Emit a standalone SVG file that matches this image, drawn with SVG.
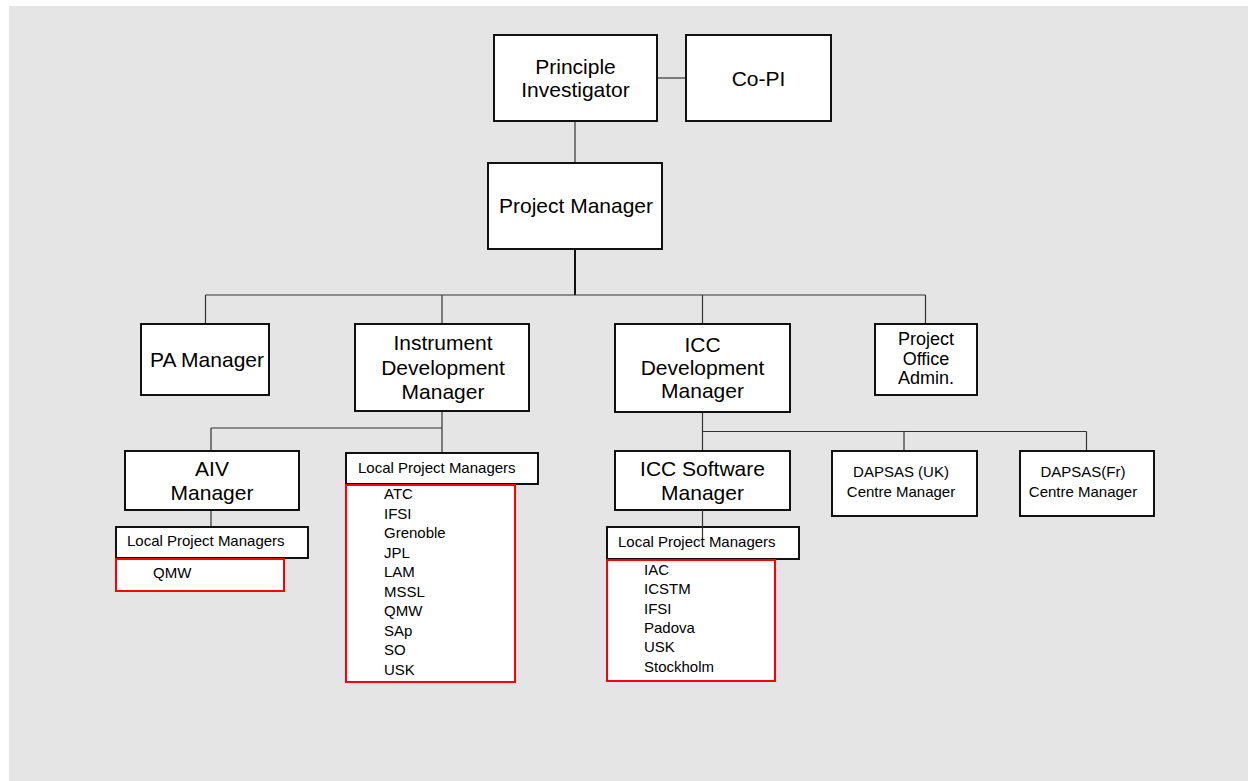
<svg xmlns="http://www.w3.org/2000/svg" width="1248" height="781" viewBox="0 0 1248 781">
<style>
.box{fill:#fff;stroke:#111;stroke-width:2}
.red{fill:#fff;stroke:#f00;stroke-width:2}
.ln{fill:none;stroke:#333;stroke-width:1.2}
.thick{fill:none;stroke:#111;stroke-width:2}
text{font-family:"Liberation Sans",Arial,sans-serif;fill:#000}
.big{font-size:21px;text-anchor:middle}
.mid{font-size:18px;text-anchor:middle}
.sm{font-size:15px}
.smc{font-size:15px;text-anchor:middle}
</style>
<rect x="0" y="0" width="1248" height="781" fill="#fff"/>
<rect x="9" y="6" width="1239" height="775" fill="#e5e5e5"/>
<g id="connectors">
<line class="ln" x1="657" y1="78" x2="686" y2="78"/>
<line class="ln" x1="575" y1="121" x2="575" y2="163"/>
<line class="thick" x1="575" y1="249" x2="575" y2="295"/>
<line class="ln" x1="205.5" y1="295" x2="925.5" y2="295"/>
<line class="ln" x1="205.5" y1="295" x2="205.5" y2="324"/>
<line class="ln" x1="442" y1="295" x2="442" y2="324"/>
<line class="ln" x1="702.5" y1="295" x2="702.5" y2="324"/>
<line class="ln" x1="925.5" y1="295" x2="925.5" y2="324"/>
<line class="ln" x1="442" y1="411" x2="442" y2="453"/>
<line class="ln" x1="211" y1="428" x2="442" y2="428"/>
<line class="ln" x1="211" y1="428" x2="211" y2="451"/>
<line class="ln" x1="211" y1="510" x2="211" y2="527"/>
<line class="ln" x1="702.5" y1="412" x2="702.5" y2="451"/>
<line class="ln" x1="702.5" y1="431.5" x2="1086.5" y2="431.5"/>
<line class="ln" x1="904" y1="431.5" x2="904" y2="451"/>
<line class="ln" x1="1086.5" y1="431.5" x2="1086.5" y2="451"/>
</g>
<g id="pi"><rect class="box" x="494" y="35" width="163" height="86"/>
<text class="big" x="575.5" y="74">Principle</text><text class="big" x="575.5" y="97">Investigator</text></g>
<g id="copi"><rect class="box" x="686" y="35" width="145" height="86"/>
<text class="big" x="758.5" y="86">Co-PI</text></g>
<g id="pm"><rect class="box" x="488" y="163" width="174" height="86"/>
<text class="big" x="576" y="213">Project Manager</text></g>
<g id="pa"><rect class="box" x="141" y="324" width="128" height="71"/>
<text class="big" x="207" y="367">PA Manager</text></g>
<g id="idm"><rect class="box" x="355" y="324" width="174" height="87"/>
<text class="big" x="443" y="350">Instrument</text><text class="big" x="443" y="375">Development</text><text class="big" x="443" y="399">Manager</text></g>
<g id="iccdm"><rect class="box" x="615" y="324" width="175" height="88"/>
<text class="big" x="702.5" y="352">ICC</text><text class="big" x="702.5" y="375">Development</text><text class="big" x="702.5" y="398">Manager</text></g>
<g id="poa"><rect class="box" x="875" y="324" width="102" height="71"/>
<text class="mid" x="926" y="345">Project</text><text class="mid" x="926" y="365">Office</text><text class="mid" x="926" y="384">Admin.</text></g>
<g id="aiv"><rect class="box" x="125" y="451" width="174" height="59"/>
<text class="big" x="212" y="476">AIV</text><text class="big" x="212" y="500">Manager</text></g>
<g id="aiv-lpm"><rect class="box" x="116" y="527" width="192" height="31"/>
<text class="sm" x="127" y="546">Local Project Managers</text>
<rect class="red" x="116" y="559" width="168" height="32"/>
<text class="sm" x="153" y="578">QMW</text></g>
<g id="idm-lpm"><rect class="box" x="346" y="453" width="192" height="31"/>
<text class="sm" x="358" y="473">Local Project Managers</text>
<rect class="red" x="346" y="485" width="169" height="197"/>
<text class="sm" x="384" y="499">ATC</text>
<text class="sm" x="384" y="519">IFSI</text>
<text class="sm" x="384" y="538">Grenoble</text>
<text class="sm" x="384" y="558">JPL</text>
<text class="sm" x="384" y="577">LAM</text>
<text class="sm" x="384" y="597">MSSL</text>
<text class="sm" x="384" y="616">QMW</text>
<text class="sm" x="384" y="636">SAp</text>
<text class="sm" x="384" y="655">SO</text>
<text class="sm" x="384" y="675">USK</text></g>
<g id="iccsw"><rect class="box" x="615" y="451" width="175" height="59"/>
<text class="big" x="702.5" y="476">ICC Software</text><text class="big" x="702.5" y="500">Manager</text></g>
<g id="dapsas-uk"><rect class="box" x="832" y="451" width="145" height="65"/>
<text class="smc" x="901" y="477">DAPSAS (UK)</text><text class="smc" x="901" y="497">Centre Manager</text></g>
<g id="dapsas-fr"><rect class="box" x="1020" y="451" width="134" height="65"/>
<text class="smc" x="1083" y="477">DAPSAS(Fr)</text><text class="smc" x="1083" y="497">Centre Manager</text></g>
<g id="icc-lpm"><rect class="box" x="607" y="527" width="192" height="32"/>
<text class="sm" x="618" y="547">Local Project Managers</text>
<rect class="red" x="607" y="560" width="168" height="121"/>
<text class="sm" x="644" y="575">IAC</text>
<text class="sm" x="644" y="594">ICSTM</text>
<text class="sm" x="644" y="614">IFSI</text>
<text class="sm" x="644" y="633">Padova</text>
<text class="sm" x="644" y="652">USK</text>
<text class="sm" x="644" y="672">Stockholm</text></g>
<g id="connectors-top"><line class="ln" x1="702.5" y1="510" x2="702.5" y2="538"/></g>
</svg>
